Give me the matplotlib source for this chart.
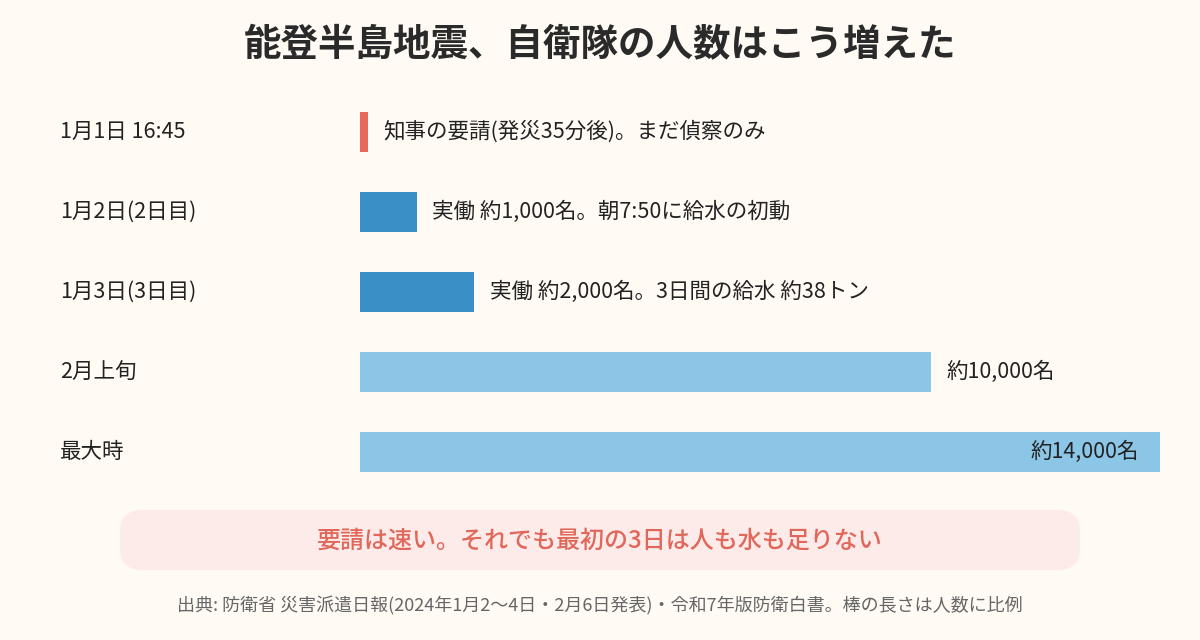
import matplotlib
matplotlib.use("Agg")
import matplotlib.pyplot as plt
from matplotlib.patches import FancyBboxPatch

plt.rcParams['font.family'] = ['Noto Sans CJK JP', 'DejaVu Sans']

title = "能登半島地震、自衛隊の人数はこう増えた"
categories = ["1月1日 16:45", "1月2日(2日目)", "1月3日(3日目)", "2月上旬", "最大時"]
personnel = [0, 1000, 2000, 10000, 14000]
notes = ["知事の要請(発災35分後)。まだ偵察のみ",
         "実働 約1,000名。朝7:50に給水の初動",
         "実働 約2,000名。3日間の給水 約38トン",
         "約10,000名",
         "約14,000名"]
colors = ["#E8695B", "#3A8FC7", "#3A8FC7", "#8CC6E7", "#8CC6E7"]
callout = "要請は速い。それでも最初の3日は人も水も足りない"
source = "出典: 防衛省 災害派遣日報(2024年1月2〜4日・2月6日発表)・令和7年版防衛白書。棒の長さは人数に比例"

bg = "#FFFBF4"
fig = plt.figure(figsize=(12, 6.4), dpi=100, facecolor=bg)
ax = fig.add_axes([360/1200, 148/640, 800/1200, 400/640])
ax.set_facecolor(bg)
xmax = max(personnel)
min_visible = xmax * 0.01
ys = list(range(len(categories)))
widths = [max(v, min_visible) for v in personnel]
ax.barh(ys, widths, height=0.5, color=colors, left=0)
ax.set_xlim(0, xmax)
ax.set_ylim(len(categories) - 0.5, -0.5)
ax.axis('off')

trans = ax.get_yaxis_transform()
for i, cat in enumerate(categories):
    ax.text(-0.375, i, cat, transform=trans, ha='left', va='center',
            fontsize=15.5, color='#222222')

for i, (w, note) in enumerate(zip(widths, notes)):
    if w >= xmax * 0.95:
        ax.annotate(note, (w, i), xytext=(-15, 0), textcoords='offset points',
                    ha='right', va='center', fontsize=15.5, color='#222222')
    else:
        ax.annotate(note, (w, i), xytext=(11, 0), textcoords='offset points',
                    ha='left', va='center', fontsize=15.5, color='#222222')

fig.text(0.5, 1 - 45/640, title, ha='center', va='center', fontsize=27,
         fontweight='bold', color='#2a2a2a')

box = FancyBboxPatch((120/1200, 1 - 570/640), 960/1200, 60/640,
                     boxstyle="round,pad=0,rounding_size=0.018",
                     transform=fig.transFigure, facecolor="#FDEBEA",
                     edgecolor='none', mutation_aspect=1200/640)
fig.patches.append(box)
fig.text(0.5, 1 - 541/640, callout, ha='center', va='center', fontsize=17.3,
         fontweight='medium', color='#E0675A')
fig.text(0.5, 1 - 606/640, source, ha='center', va='center', fontsize=13,
         color='#666666')

fig.savefig("out.png", dpi=100, facecolor=bg)
